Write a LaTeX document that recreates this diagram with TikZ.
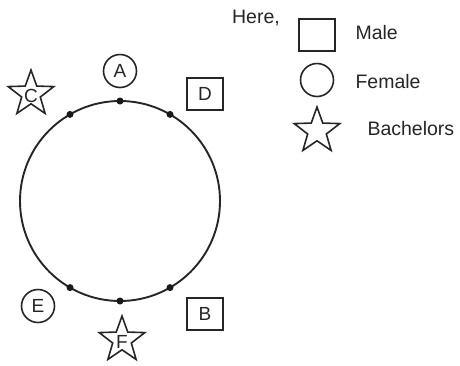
\documentclass[tikz,border=0pt]{standalone}
\usepackage{fontspec}
\setmainfont{Liberation Sans}
\usetikzlibrary{shapes.geometric,calc}
\begin{document}
\begin{tikzpicture}[x=1pt,y=-1pt,
  ink/.style={draw=black!85, line width=1.6pt},
  malebox/.style={ink, rectangle, minimum width=36pt, minimum height=32pt, inner sep=0pt},
  femcirc/.style={ink, circle, minimum size=33pt, inner sep=0pt},
  bachstar/.style={ink, star, star points=5, star point ratio=2.45, minimum size=48pt, inner sep=0pt},
  letter/.style={font=\fontsize{19}{19}\selectfont, text=black!85},
  legtext/.style={font=\fontsize{19.5}{19.5}\selectfont, text=black!85, anchor=west},
  seat/.style={circle, fill=black!90, inner sep=0pt, minimum size=7pt}]
\useasboundingbox (0,0) rectangle (460,365);
% table
\node[draw=black!85, line width=1.9pt, circle, minimum size=200pt, inner sep=0pt] (tbl) at (120,201) {};
\foreach \a/\n in {60/s1,90/s2,120/s3,240/s4,270/s5,300/s6}
  \node[seat] (\n) at ($(tbl.center)+(\a:100pt)$) {};
% people
\node[femcirc, letter] (A) at (120,71) {A};
\node[malebox, letter] (D) at (205,94) {D};
\node[bachstar] (C) at (31,94) {};
\node[letter] (Ct) at (31,96) {C};
\node[femcirc, letter] (E) at (38,306) {E};
\node[malebox, letter] (B) at (205,314) {B};
\node[bachstar] (F) at (122,340) {};
\node[letter] (Ft) at (122,342) {F};
% legend
\node[legtext, anchor=center] (here) at (256,18) {Here,};
\node[malebox] (lm) at (317,35) {};
\node[legtext] (lmt) at (352,33) {Male};
\node[femcirc] (lf) at (317,80) {};
\node[legtext] (lft) at (352,82) {Female};
\node[bachstar] (ls) at (317,131) {};
\node[legtext] (lst) at (364,129) {Bachelors};
\end{tikzpicture}
\end{document}
